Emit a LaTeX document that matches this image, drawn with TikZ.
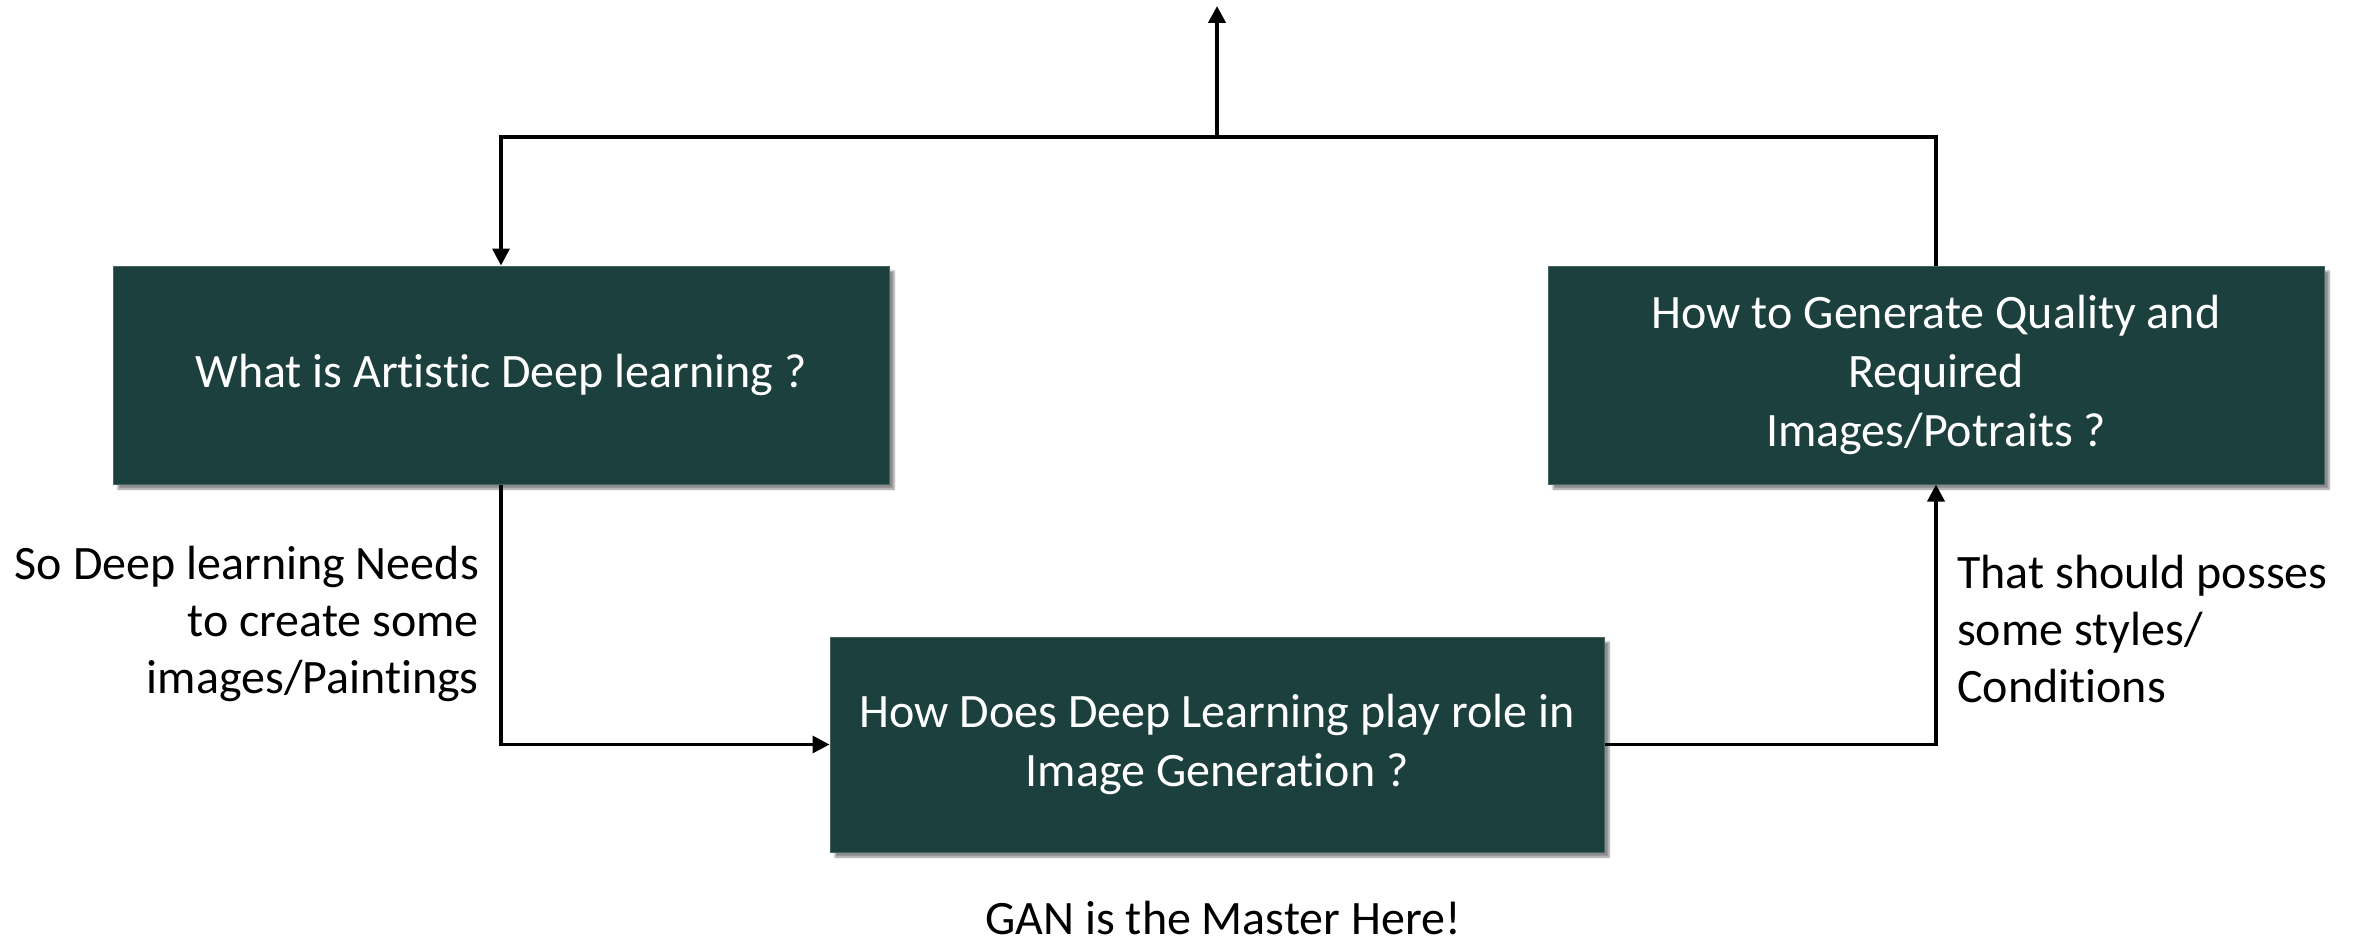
\documentclass[tikz,border=0pt]{standalone}
\usepackage{fontspec}
\setmainfont{Carlito}[Ligatures=NoCommon]
\usetikzlibrary{arrows.meta,shadows.blur}
\definecolor{boxgreen}{RGB}{27,64,61}
\definecolor{boxedge}{RGB}{70,100,98}
\tikzset{
  qbox/.style={draw=boxedge, line width=1pt, fill=boxgreen, text=white,
    minimum width=776pt, minimum height=218pt, inner sep=0pt, align=center,
    font=\fontsize{48}{59}\selectfont,
    blur shadow={shadow xshift=5pt, shadow yshift=-5pt, shadow blur steps=6, shadow opacity=45}},
  conn/.style={line width=3.5pt, -{Triangle[length=17pt,width=17pt]}},
  note/.style={font=\fontsize{48}{57}\selectfont, inner sep=0pt}
}
\begin{document}
\begin{tikzpicture}[x=1pt,y=-1pt]
\useasboundingbox (0,0) rectangle (2361,944);

% question boxes
\node[qbox] (b1) at (501,375) {What is Artistic Deep learning ?};
\node[qbox] (b2) at (1936,375) {How to Generate Quality and\\Required\\Images/Potraits ?};
\node[qbox, minimum width=774pt, minimum height=215pt] (b3) at (1217,744.5) {How Does Deep Learning play role in\\Image Generation ?};

% loop back along the top, with the exit arrow
\coordinate (top) at (1217,137);
\coordinate (tip) at (1217,6);
\draw[conn] (b2.north) |- (top) -| (b1.north);
\draw[line width=4.5pt, -{Triangle[length=17pt,width=17pt]}] (top) -- (tip);

% links between the boxes
\draw[conn] (b1.south) |- (b3.west);
\draw[conn] (b3.east) -| (b2.south);

% side notes
\node[note, align=right, anchor=east] (n1) at (479,624) {So Deep learning Needs\\to create some\\images/Paintings};
\node[note, align=left, anchor=west] (n2) at (1957,629) {That should posses\\some styles/\\Conditions};
\node[note] (n3) at (1223,918) {GAN is the Master Here!};
\end{tikzpicture}
\end{document}
